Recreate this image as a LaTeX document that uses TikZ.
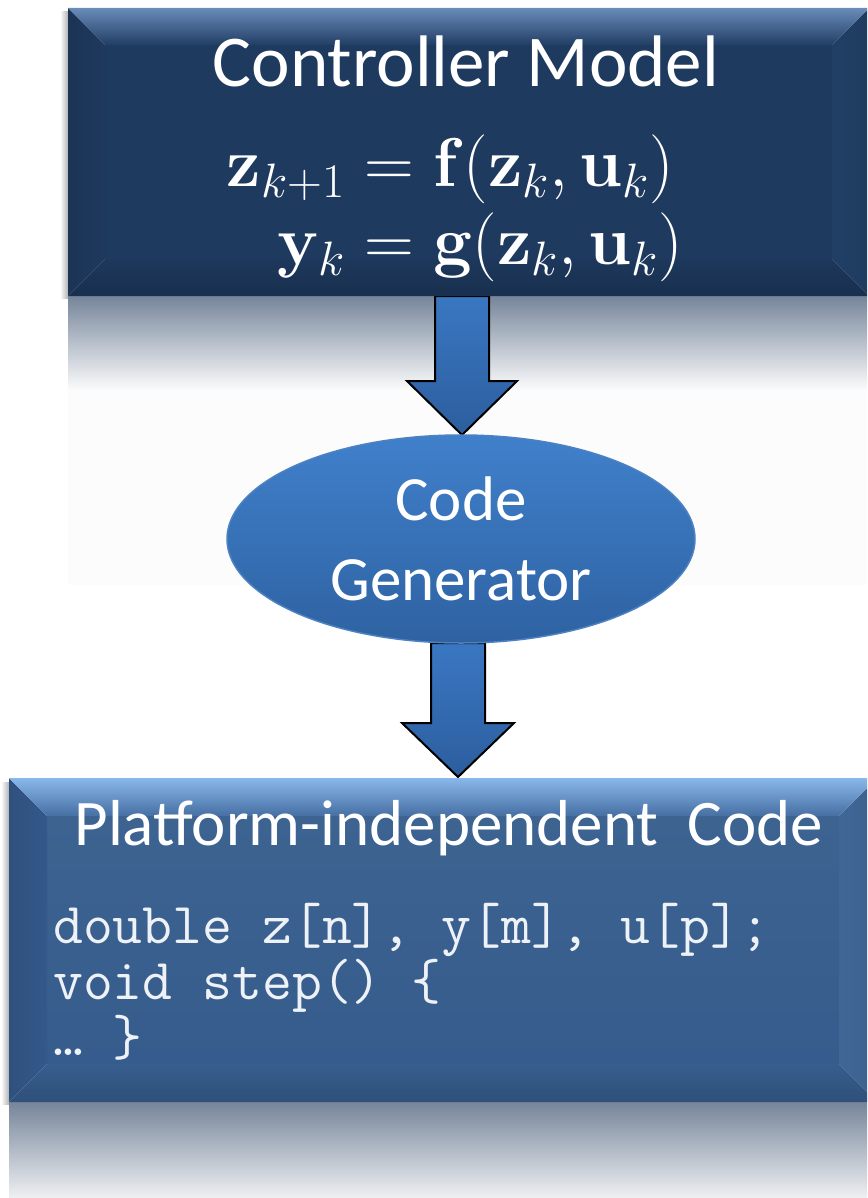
\RequirePackage{fix-cm}
\documentclass[tikz,border=0pt]{standalone}
\usepackage{amsmath}
\usepackage[no-math]{fontspec}
\setmainfont{Carlito}
\usetikzlibrary{calc,shapes.geometric}

\definecolor{navy}{HTML}{1F3A5F}
\definecolor{navyTopA}{HTML}{6A8CBA}
\definecolor{navyTopM}{HTML}{34567F}
\definecolor{navyTopB}{HTML}{213E64}
\definecolor{navyLeft}{HTML}{1E395D}
\definecolor{navyRight}{HTML}{213F66}
\definecolor{navyBottom}{HTML}{1D385C}
\definecolor{steelA}{HTML}{3D6391}
\definecolor{steelB}{HTML}{355C8C}
\definecolor{steelTopA}{HTML}{8AB8EC}
\definecolor{steelTopM}{HTML}{5F8ABF}
\definecolor{steelTopB}{HTML}{466FA2}
\definecolor{steelLeft}{HTML}{33588A}
\definecolor{steelRight}{HTML}{3F6796}
\definecolor{steelBottom}{HTML}{375E8E}
\definecolor{ellTop}{HTML}{4080CB}
\definecolor{ellBottom}{HTML}{2E62A2}
\definecolor{ellEdge}{HTML}{4C82C2}
\definecolor{arrTop}{HTML}{3A77C2}
\definecolor{arrBottom}{HTML}{2C5E9E}
\definecolor{mirrorTop}{HTML}{76859A}
\definecolor{codeInk}{HTML}{EEF2F7}

\tikzset{
  panel/.style={rectangle, inner sep=0pt, outer sep=0pt},
  heading/.style={text=white, inner sep=0pt, font=\fontsize{#1}{#1}\selectfont},
  blockarrow/.style={top color=arrTop, bottom color=arrBottom, draw=black,
                     line width=2pt, line join=miter},
}

% bevelled panel: node, bevel size, centre top/bottom colours,
% top bevel light/dark, left, right and bottom bevel colours
\newcommand\bevelpanel[9]{%
  \coordinate (NW) at (#1.north west); \coordinate (NE) at (#1.north east);
  \coordinate (SW) at (#1.south west); \coordinate (SE) at (#1.south east);
  \coordinate (iNW) at ($(NW)+(#2,#2)$);  \coordinate (iNE) at ($(NE)+(-#2,#2)$);
  \coordinate (iSW) at ($(SW)+(#2,-#2)$); \coordinate (iSE) at ($(SE)+(-#2,-#2)$);
  \shade[top color=#3, bottom color=#4] (iNW) rectangle (iSE);
  \shade[left color=#7!92!black, right color=#7] (NW) -- (iNW) -- (iSW) -- (SW) -- cycle;
  \shade[left color=#8, right color=#8!94!black] (NE) -- (iNE) -- (iSE) -- (SE) -- cycle;
  \shade[top color=#9, bottom color=#9!85!black] (SW) -- (iSW) -- (iSE) -- (SE) -- cycle;
  \shade[top color=#5, middle color=#6Mid, bottom color=#6] (NW) -- (NE) -- (iNE) -- (iNW) -- cycle;
}

% down-pointing block arrow from the shaft start #1 to the tip #2
\newcommand\blockdown[4]{% #1 start, #2 tip, #3 shaft half width, #4 head half width
  \coordinate (S) at ($(#1 -| #2)$);
  \filldraw[blockarrow] ($(S)+(-#3,0)$) -- ($(S)+(#3,0)$) -- ($(#2)+(#3,-54)$)
    -- ($(#2)+(#4,-54)$) -- (#2) -- ($(#2)+(-#4,-54)$) -- ($(#2)+(-#3,-54)$) -- cycle;
}

\colorlet{navyTopBMid}{navyTopM}
\colorlet{steelTopBMid}{steelTopM}

\begin{document}
\begin{tikzpicture}[x=1pt, y=-1pt]
  \path[use as bounding box, fill=white] (0,0) rectangle (867,1198);
  \clip (0,0) rectangle (867,1198);

  % named panels (geometry only, painted below)
  \node[panel, minimum width=801pt, minimum height=288pt] (model) at (468.5,152) {};
  \node[panel, minimum width=868pt, minimum height=324pt] (code) at (443,940) {};
  \coordinate (genBot) at (461,643);

  % mirrored glow beneath the panels
  \shade[top color=mirrorTop, bottom color=white!97!mirrorTop]
    (model.south west) rectangle ($(model.south east)+(0,94)$);
  \fill[white!99!black] ($(model.south west)+(0,94)$) rectangle ($(model.south east)+(0,289)$);
  \shade[top color=mirrorTop, bottom color=white!88!mirrorTop]
    (code.south west) rectangle ($(code.south east)+(0,96)$);

  % soft shadows at the panels' left edges
  \shade[left color=white, right color=black!30] ($(model.north west)+(-8,4)$) rectangle ($(model.south west)+(0,2)$);
  \shade[left color=white, right color=black!30] ($(code.north west)+(-8,4)$) rectangle ($(code.south west)+(0,2)$);

  % block arrows
  \coordinate (tipA) at (462,435);
  \coordinate (tipB) at (458,777);
  \blockdown{model.south}{tipA}{27}{55}
  \blockdown{genBot}{tipB}{27}{56}

  % panels
  \bevelpanel{model}{37}{navy}{navy}{navyTopA}{navyTopB}{navyLeft}{navyRight}{navyBottom}
  \bevelpanel{code}{38}{steelA}{steelB}{steelTopA}{steelTopB}{steelLeft}{steelRight}{steelBottom}

  % code generator ellipse
  \node[ellipse, minimum width=468pt, minimum height=208pt, inner sep=0pt,
        top color=ellTop, bottom color=ellBottom, draw=ellEdge, line width=1.5pt,
        text=white, align=center, font=\fontsize{63}{80}\selectfont]
        (gen) at (461,539) {Code\\Generator};

  % headings
  \node[heading=73, anchor=base] (title) at (466,87) {Controller Model};
  \node[heading=65, anchor=base] (ctitle) at (449,845) {Platform-independent\ \ Code};

  % controller equations
  \node[text=white, inner sep=0pt, font=\fontsize{69}{75}\selectfont] (eqs) at (455,211)
    {$\begin{aligned}
      \mathbf{z}_{k+1} &= \mathbf{f}(\mathbf{z}_k,\mathbf{u}_k)\\
      \mathbf{y}_k &= \mathbf{g}(\mathbf{z}_k,\mathbf{u}_k)
    \end{aligned}$};

  % generated code listing (anchored at the baseline of its last line)
  \node[text=codeInk, inner sep=0pt, anchor=base west, align=left,
        font=\ttfamily\fontsize{58}{56}\selectfont] (listing) at (53,1055)
    {double z[n], y[m], u[p];\\void step() \{\\… \}};
\end{tikzpicture}
\end{document}
